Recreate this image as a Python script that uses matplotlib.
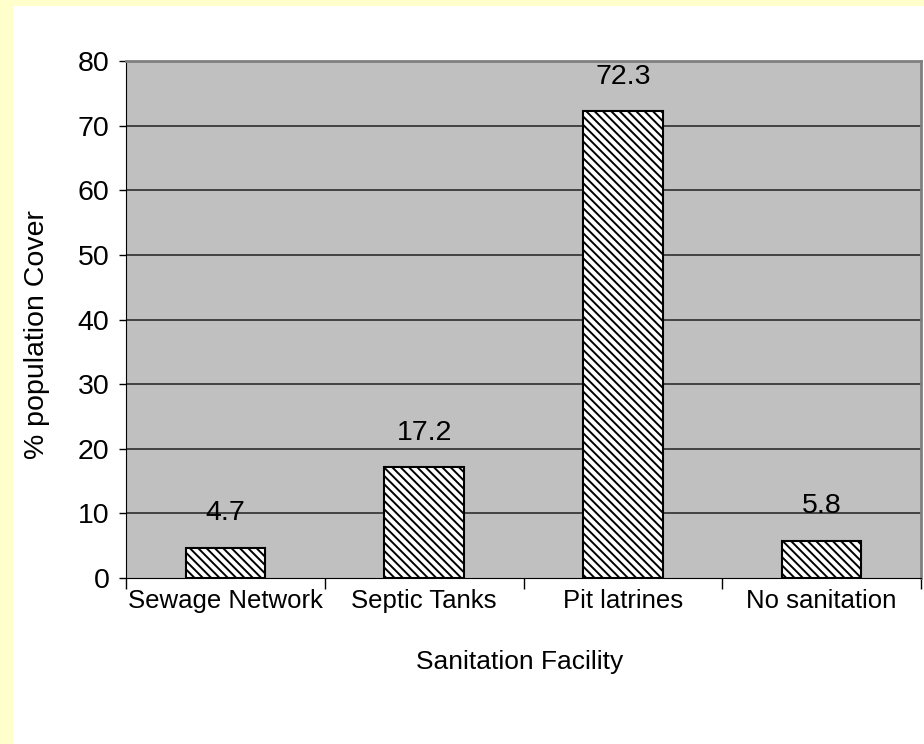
import matplotlib.pyplot as plt
from matplotlib.patches import Rectangle

categories = ['Sewage Network', 'Septic Tanks', 'Pit latrines', 'No sanitation']
coverage = [4.7, 17.2, 72.3, 5.8]
yticks = [0, 10, 20, 30, 40, 50, 60, 70, 80]

font = 'Liberation Sans'
plt.rcParams['hatch.linewidth'] = 1.4
plt.rcParams['hatch.color'] = '#262626'

fig = plt.figure(figsize=(9.24, 7.44), dpi=100, facecolor='#FFFFCC')
# white panel behind the chart
fig.add_artist(Rectangle((13/924, 0), 1, 1 - 6/744, transform=fig.transFigure,
                         facecolor='white', edgecolor='none', zorder=-10))

ax = fig.add_axes([126/924, 1 - 578/744, 795/924, 517/744])
ax.set_facecolor('#C0C0C0')

x = range(len(categories))
ax.bar(x, coverage, width=0.4, color='white', edgecolor='black',
       linewidth=1.5, hatch='\\\\\\\\', zorder=3)
for xi, v in zip(x, coverage):
    ax.text(xi, v + 4.2, f'{v}', ha='center', va='baseline', fontsize=20.5,
            family=font, zorder=4)

ax.set_xlim(-0.5, len(categories) - 0.5)
ax.set_ylim(0, 80)
ax.set_yticks(yticks)
ax.set_yticklabels([str(t) for t in yticks], family=font, fontsize=20.5)
for t in yticks[1:-1]:
    ax.axhline(t, color='#383838', linewidth=1.3, zorder=1)

ax.set_xticks(list(x))
ax.set_xticklabels(categories, family=font, fontsize=18.5)
ax.set_xticks([i + 0.5 for i in range(-1, len(categories))], minor=True)
ax.tick_params(axis='x', which='major', length=0, pad=8)
ax.tick_params(axis='x', which='minor', length=8, width=1, color='black')
ax.tick_params(axis='y', length=5, width=1, color='black', pad=7)

ax.spines['left'].set_color('black')
ax.spines['bottom'].set_color('black')
ax.spines['top'].set_color('#808080')
ax.spines['top'].set_linewidth(2)
ax.spines['right'].set_color('#808080')
ax.spines['right'].set_linewidth(2)

ax.set_xlabel('Sanitation Facility', family=font, fontsize=19)
ax.xaxis.set_label_coords(0.495, -0.14)
ax.set_ylabel('% population Cover', family=font, fontsize=20.5)
ax.yaxis.set_label_coords(-0.0956, 0.47)

fig.savefig('out.png', dpi=100, facecolor=fig.get_facecolor())
